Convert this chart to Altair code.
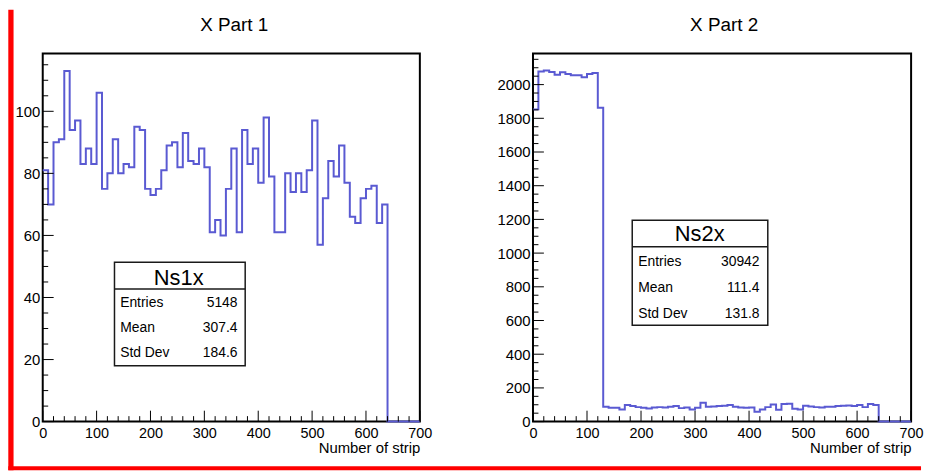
import altair as alt
import pandas as pd

FONT = "Liberation Sans"
LINE_COLOR = "#5a5ad2"
X_MAX = 700
BIN = 10

x_tick_labels = [0, 100, 200, 300, 400, 500, 600, 700]
x_minor = [v for v in range(0, 701, 20) if v % 100]

stat_labels = ["Entries", "Mean", "Std Dev"]

# ---- Ns1x (X Part 1) ----
ns1x_counts = [81, 70, 90, 91, 113, 94, 97, 83, 88, 83,
               106, 75, 80, 91, 80, 83, 82, 95, 94, 75,
               73, 75, 81, 89, 90, 82, 93, 84, 83, 88,
               82, 61, 65, 60, 75, 88, 61, 94, 83, 88,
               77, 98, 79, 61, 61, 80, 74, 80, 74, 81,
               97, 57, 72, 84, 79, 89, 77, 66, 64, 72,
               75, 76, 64, 70, 0, 0, 0, 0, 0, 0]
ns1x_yticks = [0, 20, 40, 60, 80, 100]
ns1x_yminor = [v for v in range(0, 119, 5) if v % 20]
ns1x_ymax = 118.65
ns1x_stats = ["5148", "307.4", "184.6"]

# ---- Ns2x (X Part 2) ----
ns2x_counts = [1853, 2078, 2084, 2075, 2059, 2073, 2063, 2055, 2055, 2043,
               2063, 2069, 1863, 88, 82, 82, 72, 98, 92, 86,
               82, 78, 84, 86, 84, 88, 92, 80, 84, 72,
               82, 112, 88, 90, 92, 94, 98, 88, 84, 82,
               84, 58, 72, 86, 102, 70, 104, 106, 76, 72,
               94, 90, 86, 84, 88, 88, 92, 94, 96, 92,
               98, 86, 104, 98, 0, 0, 0, 0, 0, 0]
ns2x_yticks = [0, 200, 400, 600, 800, 1000, 1200, 1400, 1600, 1800, 2000]
ns2x_yminor = [v for v in range(0, 2185, 50) if v % 200]
ns2x_ymax = 2185
ns2x_stats = ["30942", "111.4", "131.8"]


def panel(name, title, counts, ymax, yticks, yminor, stats, width, height, geo, strips=False):
    edges = [i * BIN for i in range(len(counts))] + [X_MAX]
    hist_df = pd.DataFrame({"x": edges, "y": counts + [0]})
    xs = alt.Scale(domain=[0, X_MAX], nice=False, zero=False)
    ys = alt.Scale(domain=[0, ymax], nice=False, zero=True)
    one = pd.DataFrame({"k": [0]})

    x_axis = alt.Axis(values=x_tick_labels, format="d", title="Number of strip",
                      titleFont=FONT, titleFontSize=15, titleFontWeight="normal",
                      titleColor="black", titleAnchor="end", titleAlign="right",
                      titleBaseline="alphabetic", titleY=31,
                      labelFont=FONT, labelFontSize=14.5, labelColor="black",
                      labelPadding=16.2, labelBaseline="alphabetic", labelFlush=False,
                      ticks=False, tickSize=0, domain=False, grid=False)
    y_axis = alt.Axis(values=yticks, format="d", title=None,
                      labelFont=FONT, labelFontSize=15, labelColor="black",
                      labelPadding=3, labelFlush=False, labelBaseline="middle",
                      ticks=False, tickSize=0, domain=False, grid=False)

    frame = alt.Chart(one).mark_rect(fill=None, stroke="black", strokeWidth=2).encode(
        x=alt.value(0), x2=alt.value(width), y=alt.value(0), y2=alt.value(height))

    hist = alt.Chart(hist_df).mark_line(
        interpolate="step-after", color=LINE_COLOR, strokeWidth=2
    ).encode(
        x=alt.X("x:Q", scale=xs, axis=x_axis),
        y=alt.Y("y:Q", scale=ys, axis=y_axis),
    )

    def ytick(vals, length):
        return alt.Chart(pd.DataFrame({"y": vals})).mark_rule(color="black", strokeWidth=1).encode(
            y=alt.Y("y:Q", scale=ys, axis=y_axis), x=alt.value(0), x2=alt.value(length))

    def xtick(vals, length):
        return alt.Chart(pd.DataFrame({"x": vals})).mark_rule(color="black", strokeWidth=1).encode(
            x=alt.X("x:Q", scale=xs, axis=x_axis), y=alt.value(height), y2=alt.value(height - length))

    box = alt.Chart(one).mark_rect(fill="white", stroke="#1a1a1a", strokeWidth=1.5).encode(
        x=alt.value(geo["x0"]), x2=alt.value(geo["x1"]),
        y=alt.value(geo["y0"]), y2=alt.value(geo["y1"]))
    sep = alt.Chart(one).mark_rule(color="#1a1a1a", strokeWidth=1.5).encode(
        x=alt.value(geo["x0"]), x2=alt.value(geo["x1"]), y=alt.value(geo["sep"]))
    name_txt = alt.Chart(one).mark_text(
        font=FONT, fontSize=22, align="center", baseline="alphabetic", color="black"
    ).encode(x=alt.value(geo["nx"]), y=alt.value(geo["ny"]), text=alt.value(name))
    lab_txt = alt.Chart(one).mark_text(
        font=FONT, fontSize=14, align="left", baseline="alphabetic",
        lineHeight=geo["lh"], color="black"
    ).encode(x=alt.value(geo["lx"]), y=alt.value(geo["ry"]), text=alt.value(stat_labels))
    val_txt = alt.Chart(one).mark_text(
        font=FONT, fontSize=14, align="right", baseline="alphabetic",
        lineHeight=geo["lh"], color="black"
    ).encode(x=alt.value(geo["vx"]), y=alt.value(geo["ry"]), text=alt.value(stats))
    title_txt = alt.Chart(one).mark_text(
        font=FONT, fontSize=19, align="center", baseline="alphabetic", color="black"
    ).encode(x=alt.value(geo["tx"]), y=alt.value(-22.7), text=alt.value(title))

    layers = [frame, hist,
              ytick(yticks, 11), ytick(yminor, 5.5),
              xtick(x_tick_labels, 11), xtick(x_minor, 5.5),
              box, sep, name_txt, lab_txt, val_txt, title_txt]
    if strips:
        left_strip = alt.Chart(one).mark_rect(fill="#ff0000").encode(
            x=alt.value(-34.7), x2=alt.value(-29.4), y=alt.value(-44), y2=alt.value(420))
        bottom_strip = alt.Chart(one).mark_rect(fill="#ff0000").encode(
            x=alt.value(-34.7), x2=alt.value(885), y=alt.value(416), y2=alt.value(420))
        layers += [left_strip, bottom_strip]
    return alt.layer(*layers).properties(width=width, height=height)


geo1 = dict(x0=72.3, x1=204, y0=210.3, y1=314.7, sep=237.3, nx=137, ny=233,
            lx=78, vx=196.3, ry=255.3, lh=25.5, tx=193)
geo2 = dict(x0=100, x1=236.6, y0=168, y1=274, sep=194.7, nx=168, ny=189,
            lx=106, vx=228.3, ry=214.5, lh=25.8, tx=192.6)

p1 = panel("Ns1x", "X Part 1", ns1x_counts, ns1x_ymax, ns1x_yticks, ns1x_yminor,
           ns1x_stats, 380, 371, geo1, strips=True)
p2 = panel("Ns2x", "X Part 2", ns2x_counts, ns2x_ymax, ns2x_yticks, ns2x_yminor,
           ns2x_stats, 381, 371, geo2)

chart = alt.hconcat(p1, p2, spacing=114, bounds="flush").properties(
    padding=0, background="white"
).configure_view(strokeWidth=0)

chart.save("out.html", embed_options={"renderer": "svg", "actions": False})
